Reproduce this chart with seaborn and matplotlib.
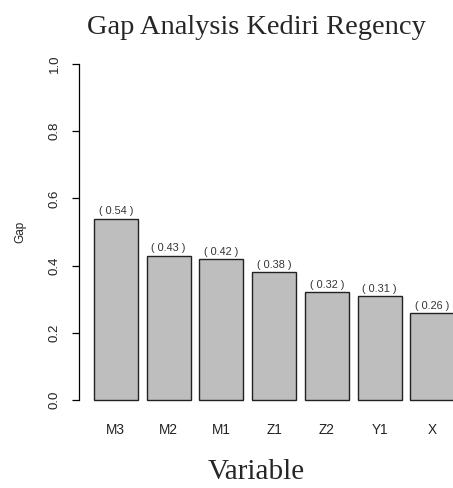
import matplotlib
matplotlib.use("Agg")
import matplotlib.pyplot as plt
import seaborn as sns
import pandas as pd

# data
variables = ["M3", "M2", "M1", "Z1", "Z2", "Y1", "X"]
gaps = [0.54, 0.43, 0.42, 0.38, 0.32, 0.31, 0.26]
yticks = [0.0, 0.2, 0.4, 0.6, 0.8, 1.0]

df = pd.DataFrame({"variable": variables, "gap": gaps})

sns.set_style("white")
plt.rcParams["font.family"] = ["Liberation Sans", "DejaVu Sans"]

fig = plt.figure(figsize=(4.53, 4.88), dpi=100)
ax = fig.add_axes([0.1744, 0.1529, 0.8808, 0.7434])

sns.barplot(data=df, x="variable", y="gap", order=variables, color="#bebebe",
            saturation=1, width=0.8333, edgecolor="#222222", linewidth=1, ax=ax)

for i, v in enumerate(gaps):
    ax.annotate(f"( {v:.2f} )", (i, v), xytext=(0, 1.5), textcoords="offset points",
                ha="center", va="bottom", fontsize=7.8, color="#333333")

ax.set_xlim(-0.6967, 6.8633)
ax.set_ylim(-0.04, 1.04)

for s in ["top", "right", "bottom"]:
    ax.spines[s].set_visible(False)
ax.spines["left"].set_bounds(0, 1)
ax.spines["left"].set_color("black")
ax.spines["left"].set_linewidth(0.9)

ax.set_yticks(yticks)
ax.set_yticklabels([f"{t:.1f}" for t in yticks], rotation=90, va="center")
ax.tick_params(axis="y", length=5, width=0.9, color="black", pad=8, labelsize=9.5,
               labelcolor="#222222", left=True)
ax.tick_params(axis="x", length=0, pad=7, labelsize=9.8, labelcolor="#222222")
ax.set_xlabel("")
ax.set_ylabel("")

fig.text(20 / 453, 1 - 232 / 488, "Gap", rotation=90, ha="center", va="center",
         fontsize=8.5, color="#222222")
fig.text(256 / 453, 1 - 28 / 488, "Gap Analysis Kediri Regency", ha="center", va="center",
         fontsize=20.5, family=["Liberation Serif", "DejaVu Serif"])
fig.text(256 / 453, 1 - 472 / 488, "Variable", ha="center", va="center",
         fontsize=21, family=["Liberation Serif", "DejaVu Serif"])

fig.savefig("out.png", dpi=100)
